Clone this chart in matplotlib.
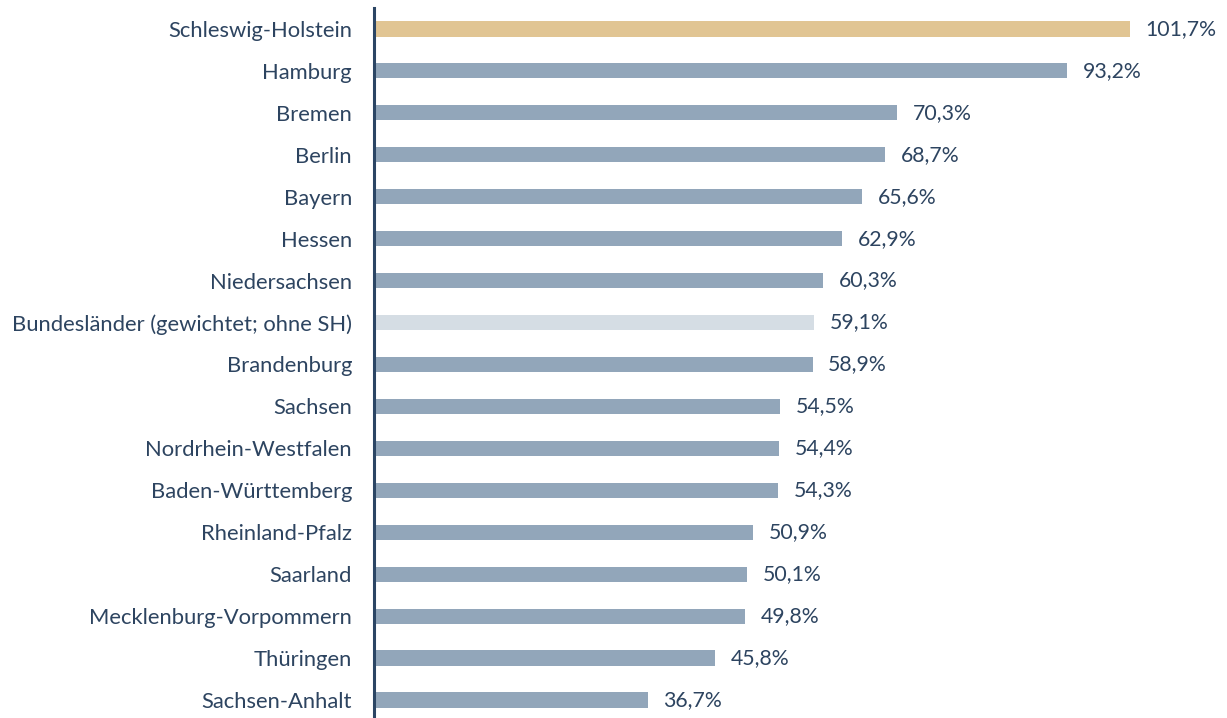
import matplotlib.pyplot as plt

labels = ["Schleswig-Holstein", "Hamburg", "Bremen", "Berlin", "Bayern", "Hessen",
          "Niedersachsen", "Bundesländer (gewichtet; ohne SH)", "Brandenburg", "Sachsen",
          "Nordrhein-Westfalen", "Baden-Württemberg", "Rheinland-Pfalz", "Saarland",
          "Mecklenburg-Vorpommern", "Thüringen", "Sachsen-Anhalt"]
values = [101.7, 93.2, 70.3, 68.7, 65.6, 62.9, 60.3, 59.1, 58.9, 54.5, 54.4, 54.3,
          50.9, 50.1, 49.8, 45.8, 36.7]

BAR = "#92a6ba"
SH = "#e1c593"
AVG = "#d5dde4"
TEXT = "#2d4460"

colors = [BAR] * len(values)
colors[0] = SH
colors[labels.index("Bundesländer (gewichtet; ohne SH)")] = AVG

plt.rcParams['font.family'] = ['Lato', 'DejaVu Sans']

W, H = 1227, 718
fig = plt.figure(figsize=(W / 100, H / 100), dpi=100)
left = 374 / W
ax = fig.add_axes([left, 0, 1 - left, 710 / H])

y = list(range(len(values)))
ax.barh(y, values, height=0.36, color=colors, left=0.2)
ax.set_xlim(0, (W - 374) / 7.42)
ax.set_ylim(16.43, -0.5)

for yi, v in zip(y, values):
    ax.annotate(f"{v:.1f}%".replace(".", ","), (v, yi), xytext=(17, 0),
                textcoords="offset pixels", va="center", ha="left",
                fontsize=15.3, color=TEXT)

ax.set_yticks(y)
ax.set_yticklabels(labels, fontsize=15.8, color=TEXT)
ax.tick_params(axis="y", length=0, pad=15.8)
ax.set_xticks([])
for s in ["top", "right", "bottom"]:
    ax.spines[s].set_visible(False)
ax.spines["left"].set_color("#2b4564")
ax.spines["left"].set_linewidth(2.2)

fig.savefig("out.png", dpi=100)
